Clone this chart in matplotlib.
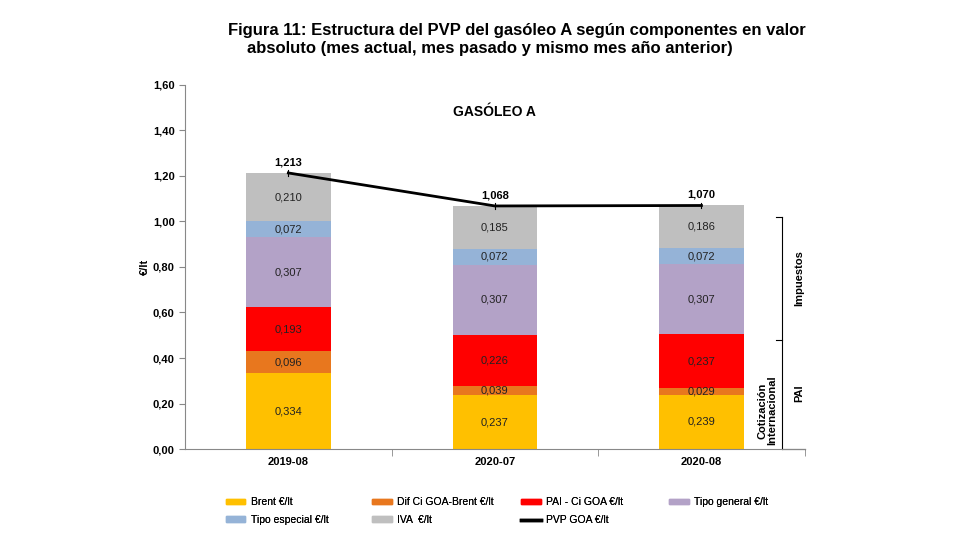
import matplotlib
matplotlib.use("Agg")
import matplotlib.pyplot as plt
import numpy as np
from matplotlib.patches import Patch
from matplotlib.lines import Line2D

plt.rcParams['font.family'] = ['Liberation Sans', 'DejaVu Sans']

categories = ["2019-08", "2020-07", "2020-08"]
series_names = ["Brent €/lt", "Dif Ci GOA-Brent €/lt", "PAI - Ci GOA €/lt",
                "Tipo general €/lt", "Tipo especial €/lt", "IVA  €/lt"]
brent = [0.334, 0.237, 0.239]
dif_ci = [0.096, 0.039, 0.029]
pai_ci = [0.193, 0.226, 0.237]
tipo_general = [0.307, 0.307, 0.307]
tipo_especial = [0.072, 0.072, 0.072]
iva = [0.210, 0.185, 0.186]
pvp = [1.213, 1.068, 1.070]
line_name = "PVP GOA €/lt"
yticks = [0.0, 0.2, 0.4, 0.6, 0.8, 1.0, 1.2, 1.4, 1.6]

colors = ["#FFC000", "#E8771E", "#FF0000", "#B3A2C7", "#95B3D7", "#BFBFBF"]
series = [brent, dif_ci, pai_ci, tipo_general, tipo_especial, iva]

fig = plt.figure(figsize=(9.79, 5.51), dpi=100)
ax = fig.add_axes([0.189, 0.185, 0.633, 0.661])
x = np.arange(len(categories))
bottom = np.zeros(len(categories))
for vals, col, name in zip(series, colors, series_names):
    vals = np.array(vals)
    ax.bar(x, vals, width=0.41, bottom=bottom, color=col, label=name, zorder=2)
    for xi, b, v in zip(x, bottom, vals):
        ax.text(xi, b + v / 2, f"{v:.3f}".replace(".", ","), ha="center", va="center",
                fontsize=8, color="#222222", zorder=4)
    bottom += vals

ax.plot(x, pvp, color="black", lw=2, zorder=3, label=line_name)
for xi, v in zip(x, pvp):
    ax.plot([xi, xi], [v - 0.012, v + 0.012], color="black", lw=0.8, zorder=3)
    ax.text(xi, v + 0.025, f"{v:.3f}".replace(".", ","), ha="center", va="bottom",
            fontsize=8, fontweight="bold", zorder=4)

ax.set_xlim(-0.5, 2.5)
ax.set_ylim(0, 1.6)
ax.set_yticks(yticks)
ax.set_yticklabels([f"{t:.2f}".replace(".", ",") for t in yticks], fontsize=8, fontweight="bold")
ax.set_xticks(x)
ax.set_xticklabels(categories, fontsize=8, fontweight="bold")
ax.set_xticks([0.5, 1.5, 2.5], minor=True)
ax.tick_params(axis="x", which="major", length=0, pad=6)
ax.tick_params(axis="x", which="minor", length=5, color="#888888")
ax.tick_params(axis="y", length=4, color="#888888")
for s in ["top", "right"]:
    ax.spines[s].set_visible(False)
for s in ["left", "bottom"]:
    ax.spines[s].set_color("#888888")
ax.set_ylabel("€/lt", fontsize=8, fontweight="bold", labelpad=2)

ax.text(1.0, 1.48, "GASÓLEO A", ha="center", va="center", fontsize=10, fontweight="bold")

# brackets
bx = 2.39
ax.plot([bx, bx], [0.0, 1.02], color="black", lw=0.8, clip_on=False)
for yy in [1.02, 0.48]:
    ax.plot([bx - 0.03, bx], [yy, yy], color="black", lw=0.8, clip_on=False)
ax.plot([bx, 2.5], [0.0, 0.0], color="black", lw=0.8, clip_on=False)
ax.text(2.475, 0.75, "Impuestos", rotation=90, ha="center", va="center", fontsize=8, fontweight="bold")
ax.text(2.475, 0.245, "PAI", rotation=90, ha="center", va="center", fontsize=8, fontweight="bold")
ax.text(2.32, 0.17, "Cotización\nInternacional", rotation=90, ha="center", va="center",
        fontsize=8, fontweight="bold", linespacing=1.0)

fig.text(0.233, 0.945, "Figura 11: Estructura del PVP del gasóleo A según componentes en valor",
         ha="left", va="center", fontsize=12, fontweight="bold")
fig.text(0.252, 0.912, "absoluto (mes actual, mes pasado y mismo mes año anterior)",
         ha="left", va="center", fontsize=12, fontweight="bold")

patch_handles = [Patch(color=c) for c in colors]
line_handle = Line2D([0], [0], color="black", lw=2.5)
columns = [
    ([patch_handles[0], patch_handles[4]], [series_names[0], series_names[4]]),
    ([patch_handles[1], patch_handles[5]], [series_names[1], series_names[5]]),
    ([patch_handles[2], line_handle], [series_names[2], line_name]),
    ([patch_handles[3]], [series_names[3]]),
]
col_x = [0.223, 0.373, 0.525, 0.676]
for (h, l), cx in zip(columns, col_x):
    lg = fig.legend(h, l, loc="upper left", bbox_to_anchor=(cx, 0.111), frameon=False,
                    fontsize=7.5, handlelength=1.9, handleheight=0.45, handletextpad=0.5,
                    labelspacing=0.75, borderpad=0.2)
    fig.add_artist(lg)

fig.savefig("out.png", dpi=100)
